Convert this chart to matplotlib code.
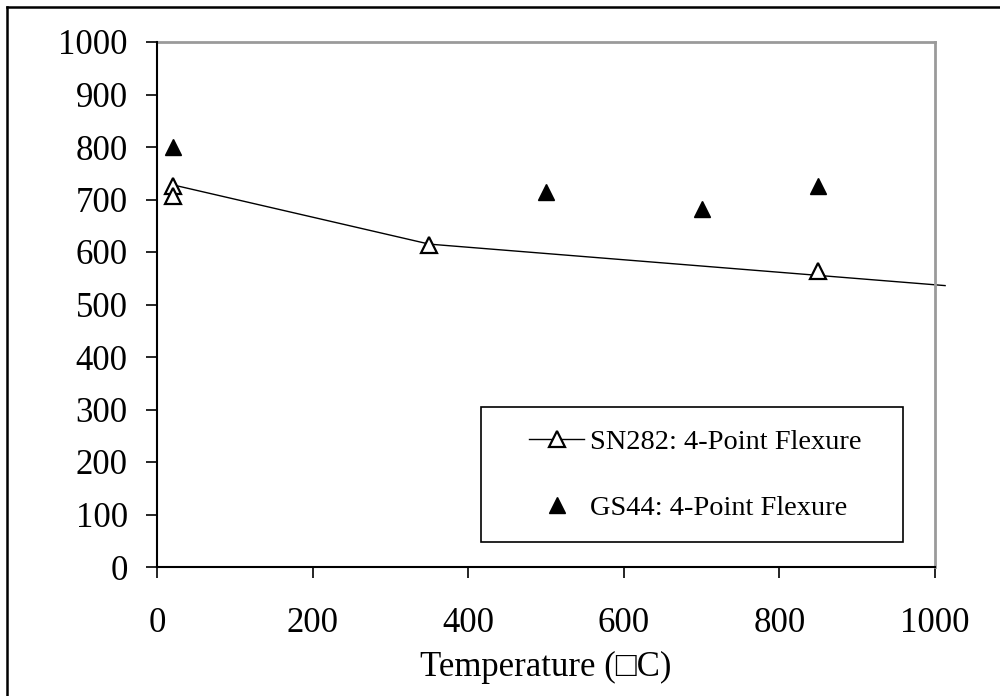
import matplotlib
matplotlib.use("Agg")
import matplotlib.pyplot as plt
from matplotlib.lines import Line2D
from matplotlib.patches import Rectangle

# Data
sn282_temp = [20, 20, 350, 850]
sn282_strength = [725, 707, 613, 564]
sn282_curve_temp = [20, 350, 1013]
sn282_curve_strength = [728, 615, 536]
gs44_temp = [20, 500, 700, 850]
gs44_strength = [800, 714, 682, 726]
x_ticks = [0, 200, 400, 600, 800, 1000]
y_ticks = [0, 100, 200, 300, 400, 500, 600, 700, 800, 900, 1000]
labels = ["SN282: 4-Point Flexure", "GS44: 4-Point Flexure"]
xlabel = "Temperature (\u25a1C)"

plt.rcParams['font.family'] = ['Liberation Serif', 'DejaVu Sans']

W, H = 1000, 696
fig = plt.figure(figsize=(W / 100, H / 100), dpi=100)
ax = fig.add_axes([157 / W, 1 - 567 / H, (935 - 157) / W, (567 - 42) / H])

ax.plot(sn282_curve_temp, sn282_curve_strength, color='black', lw=1.0,
        clip_on=False, zorder=2)
ax.plot(sn282_temp, sn282_strength, linestyle='none', marker='^', ms=12,
        mfc='white', mec='black', mew=1.6, clip_on=False, zorder=3)
ax.plot(gs44_temp, gs44_strength, linestyle='none', marker='^', ms=12,
        mfc='black', mec='black', mew=1.0, clip_on=False, zorder=3)

ax.set_xlim(0, 1000)
ax.set_ylim(0, 1000)
ax.set_xticks(x_ticks)
ax.set_yticks(y_ticks)
ax.tick_params(axis='both', direction='out', length=8, width=1.2,
               labelsize=25, color='black')
ax.tick_params(axis='y', pad=13)
ax.tick_params(axis='x', pad=21)

for s in ['left', 'bottom']:
    ax.spines[s].set_color('black')
    ax.spines[s].set_linewidth(1.5)
    ax.spines[s].set_zorder(4)
for s in ['top', 'right']:
    ax.spines[s].set_color('#9a9a9a')
    ax.spines[s].set_linewidth(2.0)

ax.set_xlabel(xlabel, fontsize=25, labelpad=8)

# Legend
h1 = Line2D([], [], color='black', lw=1.0, marker='^', ms=12, mfc='white',
            mec='black', mew=1.6)
h2 = Line2D([], [], linestyle='none', marker='^', ms=12, mfc='black',
            mec='black')
leg = fig.legend([h1, h2], labels, loc='center left',
                 bbox_to_anchor=(515 / W, 1 - 475 / H), frameon=False,
                 fontsize=20.4, borderpad=0, handlelength=1.95,
                 handletextpad=0.2, labelspacing=1.44)
fig.add_artist(Rectangle((481 / W, 1 - 542 / H), (903 - 481) / W,
                         (542 - 407) / H, transform=fig.transFigure,
                         fill=False, edgecolor='black', lw=1.2))

# Outer chart border (top and left)
fig.add_artist(Line2D([6.5 / W, 1.0], [1 - 6.5 / H, 1 - 6.5 / H],
                      transform=fig.transFigure, color='black', lw=1.8))
fig.add_artist(Line2D([6.5 / W, 6.5 / W], [0.0, 1 - 6.5 / H],
                      transform=fig.transFigure, color='black', lw=1.8))

fig.savefig("out.png", dpi=100)
